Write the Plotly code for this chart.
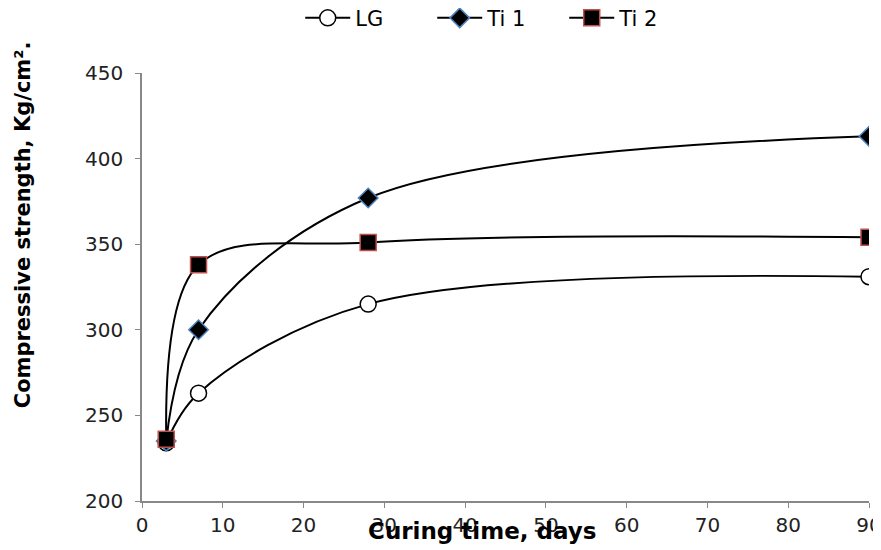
import plotly.graph_objects as go

days = [3, 7, 28, 90]
lg = [234, 263, 315, 331]
ti1 = [235, 300, 377, 413]
ti2 = [236, 338, 351, 354]
series_names = ["LG", "Ti 1", "Ti 2"]

fig = go.Figure()
fig.add_trace(go.Scatter(x=days, y=lg, name=series_names[0], mode="lines+markers",
                         line=dict(color="black", width=2, shape="spline", smoothing=1.0),
                         marker=dict(symbol="circle", size=16, color="white",
                                     line=dict(color="black", width=1.5))))
fig.add_trace(go.Scatter(x=days, y=ti1, name=series_names[1], mode="lines+markers",
                         line=dict(color="black", width=2, shape="spline", smoothing=1.0),
                         marker=dict(symbol="diamond", size=15, color="black",
                                     line=dict(color="#4f81bd", width=1.5))))
fig.add_trace(go.Scatter(x=days, y=ti2, name=series_names[2], mode="lines+markers",
                         line=dict(color="black", width=2, shape="spline", smoothing=1.0),
                         marker=dict(symbol="square", size=16, color="black",
                                     line=dict(color="#c0504d", width=1.5))))

# the page puts the figure 8px in from the top-left corner, so size it to fit
fig.update_layout(
    width=873, height=542,
    margin=dict(l=134, r=12, t=65, b=49, autoexpand=False),
    plot_bgcolor="white", paper_bgcolor="white",
    font=dict(family="DejaVu Sans", size=20, color="#222"),
    showlegend=True,
    legend=dict(orientation="h", x=0.49, xanchor="center", y=1.128, yanchor="middle",
                font=dict(size=21, color="black"),
                entrywidth=72, itemwidth=45),
    xaxis=dict(range=[0, 90], tickvals=list(range(0, 91, 10)), showgrid=False, zeroline=False,
               showline=True, linecolor="#888", linewidth=1.5, ticks="outside",
               ticklen=5, tickcolor="#888", tickfont=dict(size=20), automargin=False,
               ticklabeloverflow="allow"),
    yaxis=dict(range=[200, 450], tickvals=list(range(200, 451, 50)), showgrid=False, zeroline=False,
               showline=True, linecolor="#888", linewidth=1.5, ticks="outside",
               ticklen=5, tickcolor="#888", tickfont=dict(size=20), automargin=False,
               ticklabelstandoff=8),
)
fig.add_annotation(text="<b>Curing time, days</b>", xref="paper", yref="paper",
                   x=0.468, y=-0.07, xanchor="center", yanchor="middle", showarrow=False,
                   font=dict(size=23, color="black"))
fig.add_annotation(text="<b>Compressive strength, Kg/cm².</b>", xref="paper", yref="paper",
                   x=-0.164, y=0.646, xanchor="center", yanchor="middle", showarrow=False,
                   textangle=-90, font=dict(size=21, color="black"))
fig.write_html("out.html")
